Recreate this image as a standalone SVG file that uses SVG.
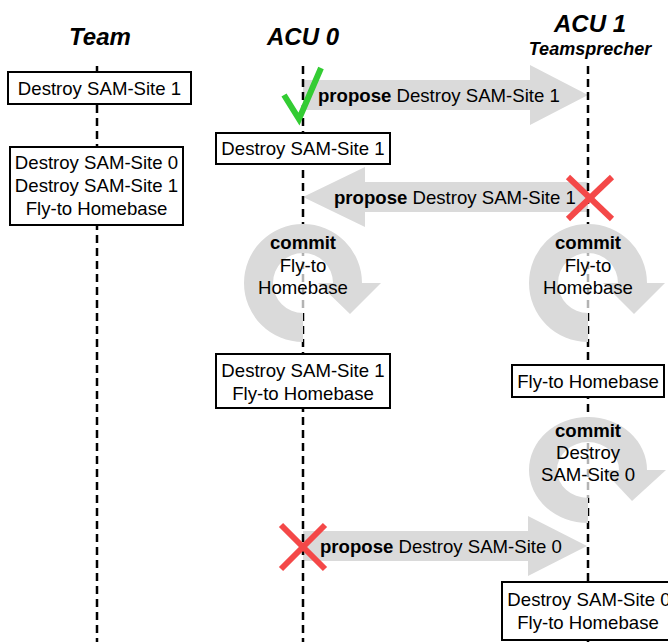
<svg xmlns="http://www.w3.org/2000/svg" width="668" height="642" viewBox="0 0 668 642">
  <defs>
    <style>
      .title { font-family: "Liberation Sans", Arial, sans-serif; font-weight: bold; font-style: italic; font-size: 24px; fill: #000; text-anchor: middle; }
      .sub { font-family: "Liberation Sans", Arial, sans-serif; font-weight: bold; font-style: italic; font-size: 18px; fill: #000; text-anchor: middle; }
      .txt { font-family: "Liberation Sans", Arial, sans-serif; font-size: 18.6px; fill: #000; }
      .mid { text-anchor: middle; }
      .b { font-weight: bold; }
      .life { stroke: #000; stroke-width: 2.5; stroke-dasharray: 8 5; fill: none; }
      .msg { fill: #dadada; stroke: none; }
      .ring { fill: #dadada; stroke: none; }
      .hole { fill: #fff; opacity: 0.7; }
      .box { fill: #fff; stroke: #000; stroke-width: 2; }
      .ok { fill: none; stroke: #33cc33; stroke-width: 6; stroke-linecap: butt; stroke-linejoin: miter; }
      .fail { fill: none; stroke: #f44848; stroke-width: 6; }
    </style>
  </defs>

  <rect width="668" height="642" fill="#fff"/>

  <!-- headers -->
  <g id="header-team"><text class="title" x="100" y="45">Team</text></g>
  <g id="header-acu0"><text class="title" x="303" y="45">ACU 0</text></g>
  <g id="header-acu1">
    <text class="title" x="590" y="32">ACU 1</text>
    <text class="sub" x="590" y="55">Teamsprecher</text>
  </g>

  <!-- connectors: propose messages and lifelines -->
  <g id="connectors">
    <path class="msg" d="M303,80 H530 V65 L588,95 L530,125 V110 H303 Z"/>
    <path class="msg" d="M588,182 H365 V167 L303,197 L365,227 V212 H588 Z"/>
    <path class="msg" d="M303,531 H528 V516 L587,546 L528,576 V561 H303 Z"/>
    <line class="life" x1="97" y1="66" x2="97" y2="642"/>
    <line class="life" x1="303" y1="66" x2="303" y2="642"/>
    <line class="life" x1="588" y1="66" x2="588" y2="642"/>
  </g>

  <!-- commit cycles -->
  <g id="commit-acu0-fly">
    <circle class="hole" cx="303" cy="283" r="30"/>
    <path class="ring" d="M303,342 A59,59 0 1 1 362,283 L381,283 L350,314 L318,283 L333,283 A30,30 0 1 0 303,313 Z"/>
    <text class="txt mid" x="303" y="249"><tspan class="b">commit</tspan></text>
    <text class="txt mid" x="303" y="272">Fly-to</text>
    <text class="txt mid" x="303" y="294">Homebase</text>
  </g>
  <g id="commit-acu1-fly">
    <circle class="hole" cx="588" cy="283" r="30"/>
    <path class="ring" d="M588,342 A59,59 0 1 1 647,283 L665,283 L634,314 L603,283 L618,283 A30,30 0 1 0 588,313 Z"/>
    <text class="txt mid" x="588" y="249"><tspan class="b">commit</tspan></text>
    <text class="txt mid" x="588" y="272">Fly-to</text>
    <text class="txt mid" x="588" y="294">Homebase</text>
  </g>
  <g id="commit-acu1-destroy">
    <ellipse class="hole" cx="588" cy="470" rx="31" ry="28"/>
    <path class="ring" d="M588,523 A59,53 0 1 1 647,470 L666,470 L632,501 L603,470 L619,470 A31,28 0 1 0 588,498 Z"/>
    <text class="txt mid" x="588" y="437"><tspan class="b">commit</tspan></text>
    <text class="txt mid" x="588" y="459">Destroy</text>
    <text class="txt mid" x="588" y="481">SAM-Site 0</text>
  </g>

  <!-- message labels -->
  <g id="label-propose-1">
    <text class="txt" x="318" y="102"><tspan class="b">propose</tspan> Destroy SAM-Site 1</text>
  </g>
  <g id="label-propose-2">
    <text class="txt" x="334" y="204"><tspan class="b">propose</tspan> Destroy SAM-Site 1</text>
  </g>
  <g id="label-propose-3">
    <text class="txt" x="320" y="553"><tspan class="b">propose</tspan> Destroy SAM-Site 0</text>
  </g>

  <!-- state boxes -->
  <g id="team-state-1">
    <rect class="box" x="8" y="72" width="183" height="32"/>
    <text class="txt mid" x="99.5" y="94.5">Destroy SAM-Site 1</text>
  </g>
  <g id="team-state-2">
    <rect class="box" x="10" y="147" width="173" height="78"/>
    <text class="txt mid" x="96.5" y="169">Destroy SAM-Site 0</text>
    <text class="txt mid" x="96.5" y="192">Destroy SAM-Site 1</text>
    <text class="txt mid" x="96.5" y="215">Fly-to Homebase</text>
  </g>
  <g id="acu0-state-1">
    <rect class="box" x="216" y="133" width="174" height="31"/>
    <text class="txt mid" x="303" y="155">Destroy SAM-Site 1</text>
  </g>
  <g id="acu0-state-2">
    <rect class="box" x="216" y="354" width="174" height="54"/>
    <text class="txt mid" x="303" y="377">Destroy SAM-Site 1</text>
    <text class="txt mid" x="303" y="400">Fly-to Homebase</text>
  </g>
  <g id="acu1-state-1">
    <rect class="box" x="512" y="365" width="152" height="32"/>
    <text class="txt mid" x="588" y="388">Fly-to Homebase</text>
  </g>
  <g id="acu1-state-2">
    <rect class="box" x="502" y="582" width="174" height="58"/>
    <text class="txt mid" x="589" y="606">Destroy SAM-Site 0</text>
    <text class="txt mid" x="588" y="629">Fly-to Homebase</text>
  </g>

  <!-- outcome marks -->
  <g id="mark-accept">
    <polyline class="ok" points="284,95 299,119 321,68"/>
  </g>
  <g id="mark-reject-acu1">
    <line class="fail" x1="568" y1="177" x2="612" y2="219"/>
    <line class="fail" x1="612" y1="177" x2="568" y2="219"/>
  </g>
  <g id="mark-reject-acu0">
    <line class="fail" x1="281" y1="525" x2="325" y2="569"/>
    <line class="fail" x1="325" y1="525" x2="281" y2="569"/>
  </g>
</svg>
